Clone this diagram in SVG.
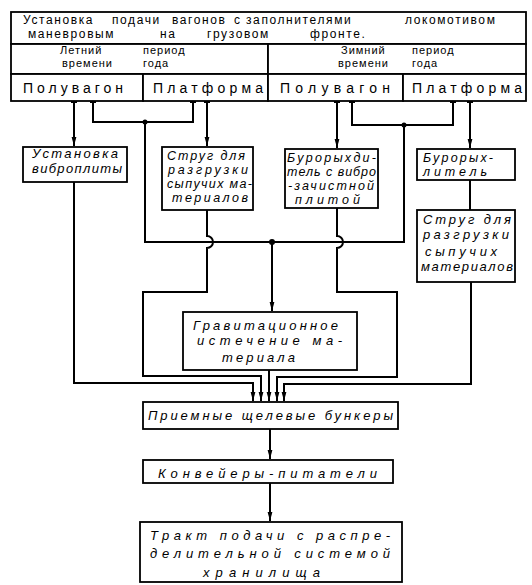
<svg xmlns="http://www.w3.org/2000/svg" width="532" height="585" viewBox="0 0 532 585">
<style>
.box{fill:#fff;stroke:#000;stroke-width:1.8}
.ln{fill:none;stroke:#000;stroke-width:2}
.t{font-family:"Liberation Sans",Arial,sans-serif;font-style:italic;font-size:13px;fill:#000}
.s{font-size:12.5px}
.h{font-family:"Liberation Sans",Arial,sans-serif;font-size:12px;fill:#000;letter-spacing:1.6px}
.p{font-family:"Liberation Sans",Arial,sans-serif;font-size:11px;fill:#000;letter-spacing:1px}
.w{font-family:"Liberation Sans",Arial,sans-serif;font-size:14px;fill:#000}
.dot{fill:#000}
</style>
<defs>
<marker id="ar" markerWidth="10" markerHeight="8" refX="9" refY="4" orient="auto" markerUnits="userSpaceOnUse">
<path d="M0,1.6 L9,4 L0,6.4 z" fill="#000"/>
</marker>
</defs>

<g id="title">
<rect class="box" x="11" y="12" width="515" height="32"/>
<text class="h" y="24"><tspan x="23">Установка</tspan><tspan x="112">подачи</tspan><tspan x="172">вагонов</tspan><tspan x="234">с</tspan><tspan x="246">заполнителями</tspan><tspan x="405">локомотивом</tspan></text>
<text class="h" y="38"><tspan x="28">маневровым</tspan><tspan x="160">на</tspan><tspan x="207">грузовом</tspan><tspan x="310">фронте.</tspan></text>
</g>

<g id="summer">
<rect class="box" x="11" y="44" width="257" height="30"/>
<text class="p" y="53.5"><tspan x="60">Летний</tspan><tspan x="143">период</tspan></text>
<text class="p" y="67"><tspan x="62">времени</tspan><tspan x="143">года</tspan></text>
</g>

<g id="winter">
<rect class="box" x="268" y="44" width="258" height="30"/>
<text class="p" y="53.5"><tspan x="341">Зимний</tspan><tspan x="412">период</tspan></text>
<text class="p" y="67"><tspan x="338">времени</tspan><tspan x="412">года</tspan></text>
</g>

<g id="gondola-summer">
<rect class="box" x="11" y="74" width="132" height="27"/>
<text class="w" x="23" y="93" textLength="100" lengthAdjust="spacing">Полувагон</text>
</g>
<g id="platform-summer">
<rect class="box" x="143" y="74" width="125" height="27"/>
<text class="w" x="153" y="93" textLength="110" lengthAdjust="spacing">Платформа</text>
</g>
<g id="gondola-winter">
<rect class="box" x="268" y="74" width="135" height="27"/>
<text class="w" x="280" y="93" textLength="110" lengthAdjust="spacing">Полувагон</text>
</g>
<g id="platform-winter">
<rect class="box" x="403" y="74" width="123" height="27"/>
<text class="w" x="412" y="93" textLength="110" lengthAdjust="spacing">Платформа</text>
</g>

<g id="vibro-plate">
<rect class="box" x="23" y="147" width="104" height="35"/>
<text class="t" x="32" y="158" textLength="86" lengthAdjust="spacing">Установка</text>
<text class="t" x="32" y="173" textLength="90" lengthAdjust="spacing">виброплиты</text>
</g>

<g id="plough-summer">
<rect class="box" x="162" y="147" width="91" height="63"/>
<text class="t s" x="167" y="160" textLength="78" lengthAdjust="spacing">Струг для</text>
<text class="t s" x="168" y="174" textLength="80" lengthAdjust="spacing">разгрузки</text>
<text class="t s" x="167" y="188" textLength="85" lengthAdjust="spacing">сыпучих ма-</text>
<text class="t s" x="172" y="202" textLength="76" lengthAdjust="spacing">териалов</text>
</g>

<g id="ripper-vibro">
<rect class="box" x="285" y="149" width="93" height="59"/>
<text class="t s" x="287" y="161.5" textLength="89" lengthAdjust="spacing">Бурорыхди-</text>
<text class="t s" x="287" y="175.5" textLength="89" lengthAdjust="spacing">тель с вибро</text>
<text class="t s" x="288" y="189.5" textLength="86" lengthAdjust="spacing">-зачистной</text>
<text class="t s" x="295" y="203.5" textLength="65" lengthAdjust="spacing">плитой</text>
</g>

<g id="ripper">
<rect class="box" x="417" y="149" width="98" height="31"/>
<text class="t s" x="423" y="162" textLength="70" lengthAdjust="spacing">Бурорых-</text>
<text class="t s" x="423" y="176" textLength="64" lengthAdjust="spacing">литель</text>
</g>

<g id="plough-winter">
<rect class="box" x="417" y="210" width="98" height="72"/>
<text class="t" x="423" y="224" textLength="88" lengthAdjust="spacing">Струг для</text>
<text class="t" x="423" y="239" textLength="86" lengthAdjust="spacing">разгрузки</text>
<text class="t" x="425" y="256" textLength="72" lengthAdjust="spacing">сыпучих</text>
<text class="t" x="421" y="271" textLength="92" lengthAdjust="spacing">материалов</text>
</g>

<g id="gravity">
<rect class="box" x="183" y="312" width="174" height="58"/>
<text class="t" x="193" y="330" textLength="145" lengthAdjust="spacing">Гравитационное</text>
<text class="t" x="197" y="345" textLength="145" lengthAdjust="spacing">истечение ма-</text>
<text class="t" x="222" y="362" textLength="73" lengthAdjust="spacing">териала</text>
</g>

<g id="bunkers">
<rect class="box" x="143" y="402" width="255" height="27"/>
<text class="t" x="148" y="420" textLength="245" lengthAdjust="spacing">Приемные щелевые бункеры</text>
</g>

<g id="feeders">
<rect class="box" x="143" y="460" width="250" height="23"/>
<text class="t" x="158" y="478" font-size="14" textLength="219" lengthAdjust="spacing">Конвейеры-питатели</text>
</g>

<g id="storage">
<rect class="box" x="140" y="522" width="262" height="60"/>
<text class="t" x="150" y="540" font-size="14" textLength="240" lengthAdjust="spacing">Тракт подачи с распре-</text>
<text class="t" x="150" y="558" font-size="14" textLength="240" lengthAdjust="spacing">делительной системой</text>
<text class="t" x="203" y="577" font-size="14" textLength="117" lengthAdjust="spacing">хранилища</text>
</g>

<g id="connectors">
<path class="ln" d="M71,102 H77 M90,102 H96 M190,102 H196 M204,102 H210 M334,102 H340 M349,102 H355 M450,102 H456 M467,102 H473"/>
<path class="ln" d="M74,101 V146" marker-end="url(#ar)"/>
<path class="ln" d="M93,101 V122 H193 V101"/>
<path class="ln" d="M207,101 V146" marker-end="url(#ar)"/>
<path class="ln" d="M337,101 V148" marker-end="url(#ar)"/>
<path class="ln" d="M352,101 V125 H453 V101"/>
<path class="ln" d="M470,101 V148" marker-end="url(#ar)"/>
<path class="ln" d="M145,122 V242 H404 V125"/>
<circle class="dot" cx="145" cy="122" r="2.5"/>
<circle class="dot" cx="404" cy="125" r="2.5"/>
<circle class="dot" cx="272" cy="242" r="3"/>
<path class="ln" d="M272,242 V311" marker-end="url(#ar)"/>
<path class="ln" d="M470,180 V210"/>
<path class="ln" d="M74,182 V383 H253 V401" marker-end="url(#ar)"/>
<path class="ln" d="M207,210 V236 A6,6 0 0 1 207,248 V292 H143 V376 H261 V401" marker-end="url(#ar)"/>
<path class="ln" d="M269,370 V401" marker-end="url(#ar)"/>
<path class="ln" d="M337,208 V236 A6,6 0 0 1 337,248 V292 H397 V377 H277 V401" marker-end="url(#ar)"/>
<path class="ln" d="M471,282 V384 H284 V401" marker-end="url(#ar)"/>
<path class="ln" d="M270,429 V459" marker-end="url(#ar)"/>
<path class="ln" d="M270,483 V521" marker-end="url(#ar)"/>
</g>
</svg>
